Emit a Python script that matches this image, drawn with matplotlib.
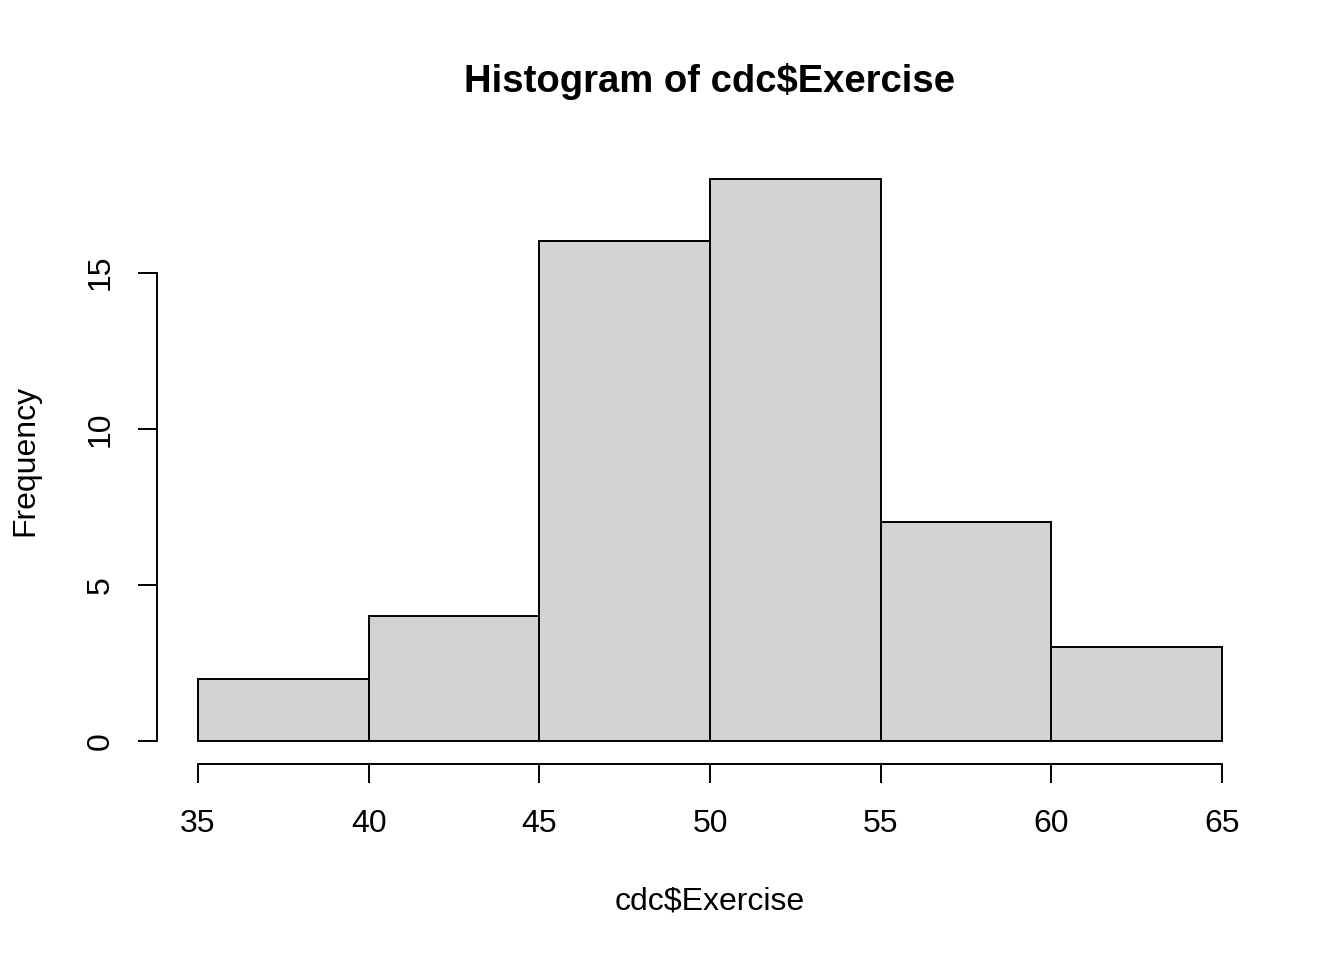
import numpy as np
import matplotlib
matplotlib.use('Agg')
import matplotlib.pyplot as plt

# histogram of cdc$Exercise (counts)
bin_edges = [35, 40, 45, 50, 55, 60, 65]
counts = [2, 4, 16, 18, 7, 3]
x_ticks = [35, 40, 45, 50, 55, 60, 65]
y_ticks = [0, 5, 10, 15]

plt.rcParams['font.family'] = ['Liberation Sans', 'DejaVu Sans']

fig = plt.figure(figsize=(13.44, 9.6), dpi=100)
ax = fig.add_axes([157 / 1344, 1 - 763.5 / 960, (1263 - 157) / 1344, (763.5 - 156.5) / 960])

ax.hist(bin_edges[:-1], bins=bin_edges, weights=counts,
        color='#D3D3D3', edgecolor='black', linewidth=1.4)

# R style 4% axis extension
xr = bin_edges[-1] - bin_edges[0]
ax.set_xlim(bin_edges[0] - 0.04 * xr, bin_edges[-1] + 0.04 * xr)
ymax = max(counts)
ax.set_ylim(-0.04 * ymax, ymax * 1.04)

for s in ['top', 'right']:
    ax.spines[s].set_visible(False)
ax.spines['left'].set_bounds(y_ticks[0], y_ticks[-1])
ax.spines['bottom'].set_bounds(x_ticks[0], x_ticks[-1])
for s in ['left', 'bottom']:
    ax.spines[s].set_linewidth(1.4)

ax.set_xticks(x_ticks)
ax.set_yticks(y_ticks)
ax.tick_params(axis='both', direction='out', length=14, width=1.4, labelsize=23)
ax.tick_params(axis='x', pad=19)
ax.tick_params(axis='y', pad=16)
for lbl in ax.get_yticklabels():
    lbl.set_rotation(90)
    lbl.set_va('center')

fig.text(710 / 1344, 1 - 82 / 960, 'Histogram of cdc$Exercise',
         ha='center', va='center', fontsize=27.5, fontweight='bold')
fig.text(710 / 1344, 1 - 901 / 960, 'cdc$Exercise', ha='center', va='center', fontsize=23)
fig.text(25 / 1344, 1 - 460 / 960, 'Frequency', ha='center', va='center',
         rotation=90, fontsize=23)

fig.savefig('out.png', dpi=100)
